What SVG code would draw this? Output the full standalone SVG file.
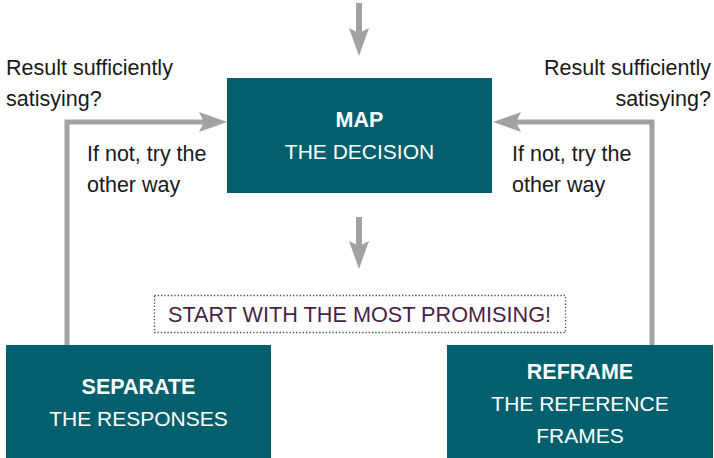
<svg xmlns="http://www.w3.org/2000/svg" width="714" height="458" viewBox="0 0 714 458">
  <style>
    .box { fill: #02606e; }
    .title { font-family: "Liberation Sans", Arial, sans-serif; font-size: 21.5px; font-weight: bold; fill: #ffffff; text-anchor: middle; }
    .sub { font-family: "Liberation Sans", Arial, sans-serif; font-size: 21px; fill: #ffffff; text-anchor: middle; }
    .label { font-family: "Liberation Sans", Arial, sans-serif; font-size: 21.5px; fill: #1a1a1a; }
    .note { font-family: "Liberation Sans", Arial, sans-serif; font-size: 22px; fill: #4b1f47; }
    .conn { fill: none; stroke: #a2a2a2; }
  </style>
  <defs>
    <marker id="head" markerUnits="userSpaceOnUse" markerWidth="28" markerHeight="20" refX="5" refY="10" orient="auto" overflow="visible">
      <path d="M0,0 L28,10 L0,20 L5,10 Z" fill="#a2a2a2"/>
    </marker>
  </defs>

  <!-- connectors -->
  <g id="connectors">
    <path class="conn" stroke-width="6" d="M359,3 V33" marker-end="url(#head)"/>
    <path class="conn" stroke-width="6" d="M359,217 V246" marker-end="url(#head)"/>
    <path class="conn" stroke-width="5" d="M67,346 V122 H204" marker-end="url(#head)"/>
    <path class="conn" stroke-width="5" d="M652,346 V122 H516" marker-end="url(#head)"/>
  </g>

  <!-- loop labels -->
  <g id="labels">
    <text class="label" x="6" y="75">Result sufficiently</text>
    <text class="label" x="6" y="106">satisying?</text>
    <text class="label" x="87" y="161">If not, try the</text>
    <text class="label" x="87" y="192">other way</text>
    <text class="label" x="711" y="75" text-anchor="end">Result sufficiently</text>
    <text class="label" x="711" y="106" text-anchor="end">satisying?</text>
    <text class="label" x="512" y="161">If not, try the</text>
    <text class="label" x="512" y="192">other way</text>
  </g>

  <g id="map">
    <rect class="box" x="227" y="78" width="265" height="115"/>
    <text class="title" x="359.5" y="127">MAP</text>
    <text class="sub" x="359.5" y="159">THE DECISION</text>
  </g>

  <g id="start-note">
    <rect x="154.5" y="295.5" width="411" height="37" fill="none" stroke="#4a4a4a" stroke-width="1.3" stroke-dasharray="1.3 2"/>
    <text class="note" x="168" y="322" textLength="383" lengthAdjust="spacingAndGlyphs">START WITH THE MOST PROMISING!</text>
  </g>

  <g id="separate">
    <rect class="box" x="6" y="345" width="265" height="113"/>
    <text class="title" x="138.5" y="394">SEPARATE</text>
    <text class="sub" x="138.5" y="426">THE RESPONSES</text>
  </g>

  <g id="reframe">
    <rect class="box" x="447" y="345" width="266" height="113"/>
    <text class="title" x="580" y="379">REFRAME</text>
    <text class="sub" x="580" y="411">THE REFERENCE</text>
    <text class="sub" x="580" y="443">FRAMES</text>
  </g>
</svg>
